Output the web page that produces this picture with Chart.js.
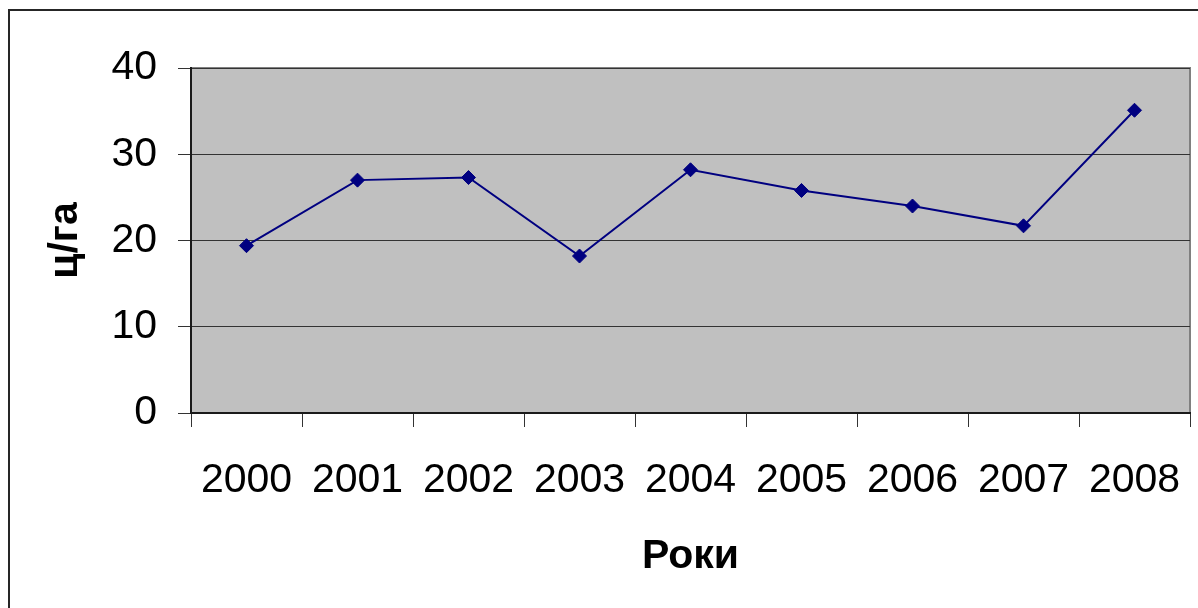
<!DOCTYPE html>
<html>
<head>
<meta charset="utf-8">
<script src="https://cdn.jsdelivr.net/npm/chart.js@4/dist/chart.umd.min.js"></script>
<style>
  html, body { margin: 0; padding: 0; background: #ffffff; }
  #wrap { position: relative; width: 1198px; height: 608px; overflow: hidden; }
  canvas { display: block; }
</style>
</head>
<body>
<div id="wrap"><canvas id="c" width="1198" height="608"></canvas></div>
<script>
const categories = ['2000', '2001', '2002', '2003', '2004', '2005', '2006', '2007', '2008'];
const yieldValues = [19.4, 27.0, 27.3, 18.2, 28.2, 25.8, 24.0, 21.7, 35.1];
const yTicks = [0, 10, 20, 30, 40];
const yTitle = 'ц/га';
const xTitle = 'Роки';

const FONT = "'Liberation Sans', Arial, sans-serif";

const framePlugin = {
  id: 'framePlugin',
  beforeDraw(chart) {
    const ctx = chart.ctx;
    const a = chart.chartArea;
    ctx.save();
    // outer chart frame (extends beyond the visible picture)
    ctx.strokeStyle = '#262626';
    ctx.lineWidth = 2;
    ctx.strokeRect(9, 10, 1400, 900);
    // plot area background
    ctx.fillStyle = '#c0c0c0';
    ctx.fillRect(a.left, a.top, a.right - a.left, a.bottom - a.top);
    ctx.strokeStyle = '#808080';
    ctx.lineWidth = 2;
    ctx.strokeRect(a.left, a.top, a.right - a.left, a.bottom - a.top);
    ctx.restore();
  }
};

new Chart(document.getElementById('c'), {
  type: 'line',
  data: {
    labels: categories,
    datasets: [{
      data: yieldValues,
      borderColor: '#000080',
      backgroundColor: '#000080',
      borderWidth: 2,
      pointStyle: 'rectRot',
      pointRadius: 7,
      pointHoverRadius: 7,
      pointBorderWidth: 1,
      tension: 0,
      fill: false
    }]
  },
  options: {
    responsive: false,
    animation: false,
    events: [],
    layout: { padding: { left: 0, top: 68, right: 6, bottom: 0 } },
    plugins: { legend: { display: false }, tooltip: { enabled: false } },
    scales: {
      x: {
        type: 'category',
        offset: true,
        afterFit(s) { s.height = 195; s.paddingLeft = 0; s.paddingRight = 0; },
        grid: {
          display: true,
          offset: true,
          drawOnChartArea: false,
          drawTicks: true,
          tickLength: 14,
          color: '#333333',
          lineWidth: 1
        },
        border: { display: true, color: '#1a1a1a', width: 2 },
        ticks: {
          color: '#000000',
          font: { family: FONT, size: 41 },
          padding: 29,
          maxRotation: 0,
          autoSkip: false
        },
        title: {
          display: true,
          text: xTitle,
          color: '#000000',
          font: { family: FONT, size: 41, weight: 'bold' },
          padding: { top: 0, bottom: 27 }
        }
      },
      y: {
        min: 0,
        max: 40,
        afterFit(s) { s.width = 191; },
        afterBuildTicks(s) { s.ticks = yTicks.map(v => ({ value: v })); },
        grid: {
          display: true,
          drawOnChartArea: true,
          drawTicks: true,
          tickLength: 13,
          color: '#333333',
          lineWidth: 1
        },
        border: { display: true, color: '#1a1a1a', width: 2 },
        ticks: {
          color: '#000000',
          font: { family: FONT, size: 41 },
          padding: 21
        },
        title: {
          display: true,
          text: yTitle,
          color: '#000000',
          font: { family: FONT, size: 41, weight: 'bold' },
          padding: { top: 41, bottom: 0 }
        }
      }
    }
  },
  plugins: [framePlugin]
});
</script>
</body>
</html>
